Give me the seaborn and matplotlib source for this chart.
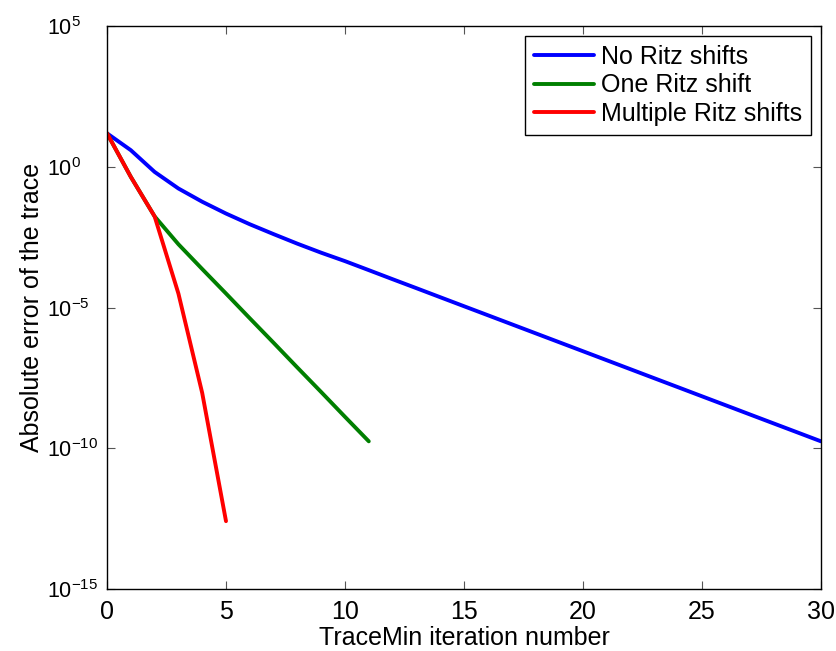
import numpy as np
import pandas as pd
import matplotlib
matplotlib.use("Agg")
import matplotlib.pyplot as plt
import matplotlib.ticker as mticker
import seaborn as sns

# values (absolute error per iteration)
iters_none = list(range(0, 31))
err_none = [15.5, 3.9, 0.66, 0.17, 0.0575, 0.0219, 0.00912, 0.00407, 1.86e-3, 8.9e-4,
            4.47e-4, 2.14e-4, 1.02e-4, 4.9e-5, 2.34e-5, 1.12e-5, 5.37e-6, 2.57e-6, 1.23e-6,
            5.89e-7, 2.82e-7, 1.35e-7, 6.46e-8, 3.09e-8, 1.48e-8, 7.08e-9, 3.39e-9,
            1.62e-9, 7.76e-10, 3.72e-10, 1.78e-10]

iters_one = list(range(0, 12))
err_one = [15.5, 0.44, 0.0174, 1.78e-3, 2.34e-4, 3.16e-5, 4.17e-6, 5.62e-7, 7.41e-8,
           1.0e-8, 1.32e-9, 1.78e-10]

iters_multi = list(range(0, 6))
err_multi = [15.5, 0.44, 0.0174, 3.16e-5, 9.3e-9, 2.6e-13]

labels = ["No Ritz shifts", "One Ritz shift", "Multiple Ritz shifts"]
colors = {"No Ritz shifts": "#0000ff", "One Ritz shift": "#007f00",
          "Multiple Ritz shifts": "#ff0000"}

df = pd.concat([
    pd.DataFrame({"it": iters_none, "err": err_none, "method": labels[0]}),
    pd.DataFrame({"it": iters_one, "err": err_one, "method": labels[1]}),
    pd.DataFrame({"it": iters_multi, "err": err_multi, "method": labels[2]}),
])

sns.set_style("ticks")
plt.rcParams["font.family"] = ["Liberation Sans", "DejaVu Sans"]
plt.rcParams["mathtext.fontset"] = "custom"
plt.rcParams["mathtext.rm"] = "Liberation Sans"
plt.rcParams["mathtext.it"] = "Liberation Sans:italic"
plt.rcParams["mathtext.bf"] = "Liberation Sans:bold"
plt.rcParams["text.color"] = "black"
plt.rcParams["axes.labelcolor"] = "black"
plt.rcParams["xtick.labelcolor"] = "black"
plt.rcParams["ytick.labelcolor"] = "black"

fig = plt.figure(figsize=(8.36, 6.51), dpi=100)
ax = fig.add_axes([0.128, 0.095, 0.854, 0.865])

sns.lineplot(data=df, x="it", y="err", hue="method", hue_order=labels,
             palette=colors, linewidth=2.8, ax=ax, estimator=None, sort=False)

ax.set_yscale("log")
ax.set_xlim(0, 30)
ax.set_ylim(1e-15, 1e5)
ax.set_xticks([0, 5, 10, 15, 20, 25, 30])
ax.yaxis.set_major_locator(mticker.FixedLocator([1e-15, 1e-10, 1e-5, 1e0, 1e5]))
ax.yaxis.set_minor_locator(mticker.NullLocator())
ax.yaxis.set_major_formatter(mticker.LogFormatterSciNotation())

ax.tick_params(direction="in", length=6, width=0.8, color="#555555",
               labelsize=18, top=True, right=True, pad=8)
# MATLAB-style: the "10" bases line up on the left
ax.tick_params(axis="y", labelsize=15.5, pad=43)
for lab in ax.get_yticklabels():
    lab.set_horizontalalignment("left")
for s in ax.spines.values():
    s.set_linewidth(1.0)
    s.set_color("black")

ax.set_xlabel("TraceMin iteration number", fontsize=18, labelpad=1)
ax.set_ylabel("Absolute error of the trace", fontsize=18)
ax.yaxis.set_label_coords(-0.088, 0.5)

leg = ax.legend(loc="upper right", fontsize=18, handlelength=2.4, labelspacing=0.18,
                borderaxespad=0.4, handletextpad=0.3, borderpad=0.35,
                fancybox=False, framealpha=1, edgecolor="black")
leg.get_frame().set_linewidth(1.0)

fig.savefig("out.png", dpi=100)
